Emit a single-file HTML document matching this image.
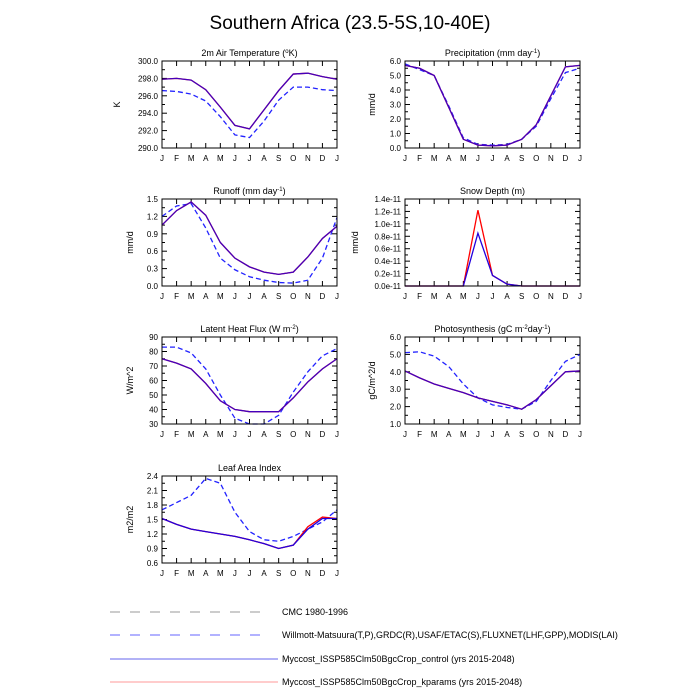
<!DOCTYPE html>
<html><head><meta charset="utf-8"><style>
body{margin:0;background:#fff;}
svg{display:block;font-family:"Liberation Sans",sans-serif;}
</style></head><body>
<svg id="c" width="700" height="700">
<text x="350" y="29" text-anchor="middle" font-size="19">Southern Africa (23.5-5S,10-40E)</text>
</svg>
<script>
const months=["J","F","M","A","M","J","J","A","S","O","N","D","J"];
const tempCtl=[297.9,298.0,297.8,296.7,294.7,292.6,292.2,294.4,296.6,298.5,298.6,298.2,297.9];
const tempObs=[296.6,296.5,296.2,295.4,293.6,291.5,291.2,293.1,295.5,297.0,297.0,296.7,296.6];
const precCtl=[5.7,5.5,5.0,2.8,0.6,0.2,0.15,0.2,0.6,1.6,3.6,5.6,5.7];
const precObs=[5.8,5.4,5.0,2.9,0.7,0.25,0.2,0.25,0.6,1.5,3.4,5.2,5.5];
const runCtl=[1.05,1.3,1.45,1.22,0.75,0.48,0.33,0.24,0.2,0.24,0.5,0.82,1.03];
const runObs=[1.2,1.38,1.42,1.0,0.48,0.28,0.16,0.1,0.06,0.05,0.1,0.48,1.18];
const snowCtl=[0,0,0,0,0,0.85,0.17,0.03,0,0,0,0,0];
const snowKp=[0,0,0,0,0,1.22,0.17,0.03,0,0,0,0,0];
const lhfCtl=[75,72,68,58,46,40,38.5,38.5,38.5,48,59,68,75];
const lhfObs=[83,83,79,68,50,34,30,30,36,52,66,77,82];
const gppCtl=[4.05,3.65,3.3,3.05,2.8,2.5,2.3,2.1,1.85,2.4,3.2,4.0,4.05];
const gppObs=[5.1,5.15,4.9,4.3,3.3,2.5,2.1,1.95,1.85,2.3,3.5,4.6,5.0];
const laiCtl=[1.52,1.4,1.3,1.25,1.2,1.15,1.08,1.0,0.9,0.97,1.3,1.52,1.52];
const laiKp=[1.52,1.4,1.3,1.25,1.2,1.15,1.08,1.0,0.9,0.97,1.35,1.55,1.52];
const laiObs=[1.7,1.85,2.0,2.35,2.25,1.65,1.25,1.08,1.05,1.15,1.3,1.45,1.7];

const NS="http://www.w3.org/2000/svg";
const svg=document.getElementById('c');
function el(t,a,p){const e=document.createElementNS(NS,t);for(const k in a)e.setAttribute(k,a[k]);(p||svg).appendChild(e);return e;}

function panel(o){
  const g=el('g',{});
  
  
  const x0=o.x,x1=o.x+175,y0=o.y,y1=o.y+87;
  const sx=i=>x0+(x1-x0)*i/12;
  const sy=v=>y1-(v-o.min)/(o.max-o.min)*(y1-y0);
  const t=el('text',{x:(x0+x1)/2,y:y0-5,'text-anchor':'middle','font-size':9},g);
  t.innerHTML=o.title;
  
  
  const yl=el('text',{x:0,y:0,'text-anchor':'middle','font-size':9,transform:`translate(${o.ylx},${(y0+y1)/2}) rotate(-90)`},g);
  yl.textContent=o.ylab;
  
  
  for(let i=0;i<o.ticks.length;i++){
    const v=o.ticks[i],y=sy(v);
    el('line',{x1:x0,x2:x0+5,y1:y,y2:y,stroke:'#000','stroke-width':1},g);
    el('line',{x1:x1,x2:x1-5,y1:y,y2:y,stroke:'#000','stroke-width':1},g);
    const tl=el('text',{x:x0-4,y:y+3,'text-anchor':'end','font-size':8},g);
    tl.textContent=o.labels[i];
    
    
    if(i<o.ticks.length-1){const m=sy((v+o.ticks[i+1])/2);
      el('line',{x1:x0,x2:x0+3,y1:m,y2:m,stroke:'#000'},g);
      el('line',{x1:x1,x2:x1-3,y1:m,y2:m,stroke:'#000'},g);}
  }
  months.forEach((m,i)=>{
    const x=sx(i);
    el('line',{x1:x,x2:x,y1:y1,y2:y1-5,stroke:'#000'},g);
    el('line',{x1:x,x2:x,y1:y0,y2:y0+5,stroke:'#000'},g);
    const tl=el('text',{x:x,y:y1+13,'text-anchor':'middle','font-size':8},g);
    tl.textContent=m;
    
    
  });
  const path=(d,stroke,dash,nm,op)=>{
    const p=el('polyline',{points:d.map((v,i)=>sx(i)+','+sy(v)).join(' '),fill:'none',stroke:stroke,'stroke-width':1.3,'stroke-dasharray':dash||'none',opacity:op||1},g);
    
    
  };
  if(o.obs)path(o.obs,'#2222ff','5,3','obs-line');
  path(o.kp||o.ctl,'#ff0000',null,'kparams-line');
  path(o.ctl,'#2200dd',null,'control-line',o.kp?1:0.85);
  el('rect',{x:x0,y:y0,width:175,height:87,fill:'none',stroke:'#000','stroke-width':1},g);
}
panel({name:'temperature-panel',x:162,y:61,min:290,max:300,ticks:[290,292,294,296,298,300],labels:['290.0','292.0','294.0','296.0','298.0','300.0'],title:'2m Air Temperature (<tspan font-size="6" dy="-3">o</tspan><tspan dy="3">K)</tspan>',ylab:'K',ylx:120,ctl:tempCtl,obs:tempObs});
panel({name:'precipitation-panel',x:405,y:61,min:0,max:6,ticks:[0,1,2,3,4,5,6],labels:['0.0','1.0','2.0','3.0','4.0','5.0','6.0'],title:'Precipitation (mm day<tspan font-size="6" dy="-3">-1</tspan><tspan dy="3">)</tspan>',ylab:'mm/d',ylx:375,ctl:precCtl,obs:precObs});
panel({name:'runoff-panel',x:162,y:199,min:0,max:1.5,ticks:[0,0.3,0.6,0.9,1.2,1.5],labels:['0.0','0.3','0.6','0.9','1.2','1.5'],title:'Runoff (mm day<tspan font-size="6" dy="-3">-1</tspan><tspan dy="3">)</tspan>',ylab:'mm/d',ylx:133,ctl:runCtl,obs:runObs});
panel({name:'snow-depth-panel',x:405,y:199,min:0,max:1.4,ticks:[0,0.2,0.4,0.6,0.8,1.0,1.2,1.4],labels:['0.0e-11','0.2e-11','0.4e-11','0.6e-11','0.8e-11','1.0e-11','1.2e-11','1.4e-11'],title:'Snow Depth (m)',ylab:'mm/d',ylx:358,ctl:snowCtl,kp:snowKp});
panel({name:'latent-heat-panel',x:162,y:337,min:30,max:90,ticks:[30,40,50,60,70,80,90],labels:['30','40','50','60','70','80','90'],title:'Latent Heat Flux (W m<tspan font-size="6" dy="-3">-2</tspan><tspan dy="3">)</tspan>',ylab:'W/m^2',ylx:133,ctl:lhfCtl,obs:lhfObs});
panel({name:'photosynthesis-panel',x:405,y:337,min:1,max:6,ticks:[1,2,3,4,5,6],labels:['1.0','2.0','3.0','4.0','5.0','6.0'],title:'Photosynthesis (gC m<tspan font-size="6" dy="-3">-2</tspan><tspan dy="3">day</tspan><tspan font-size="6" dy="-3">-1</tspan><tspan dy="3">)</tspan>',ylab:'gC/m^2/d',ylx:375,ctl:gppCtl,obs:gppObs});
panel({name:'leaf-area-index-panel',x:162,y:476,min:0.6,max:2.4,ticks:[0.6,0.9,1.2,1.5,1.8,2.1,2.4],labels:['0.6','0.9','1.2','1.5','1.8','2.1','2.4'],title:'Leaf Area Index',ylab:'m2/m2',ylx:133,ctl:laiCtl,kp:laiKp,obs:laiObs});

const legend=[
 {y:612,c:'#999999',dash:'10,10',x2:268,t:'CMC 1980-1996'},
 {y:635,c:'#6666ff',dash:'10,10',x2:268,t:'Willmott-Matsuura(T,P),GRDC(R),USAF/ETAC(S),FLUXNET(LHF,GPP),MODIS(LAI)'},
 {y:659,c:'#6666ee',dash:'none',x2:278,t:'Myccost_ISSP585Clm50BgcCrop_control (yrs 2015-2048)'},
 {y:682,c:'#ff9999',dash:'none',x2:278,t:'Myccost_ISSP585Clm50BgcCrop_kparams (yrs 2015-2048)'}];
legend.forEach(L=>{
  const g=el('g',{});
  
  
  el('line',{x1:110,x2:L.x2,y1:L.y,y2:L.y,stroke:L.c,'stroke-width':1,'stroke-dasharray':L.dash},g);
  const t=el('text',{x:282,y:L.y+3,'font-size':9},g);t.textContent=L.t;
});
</script>
</body></html>
